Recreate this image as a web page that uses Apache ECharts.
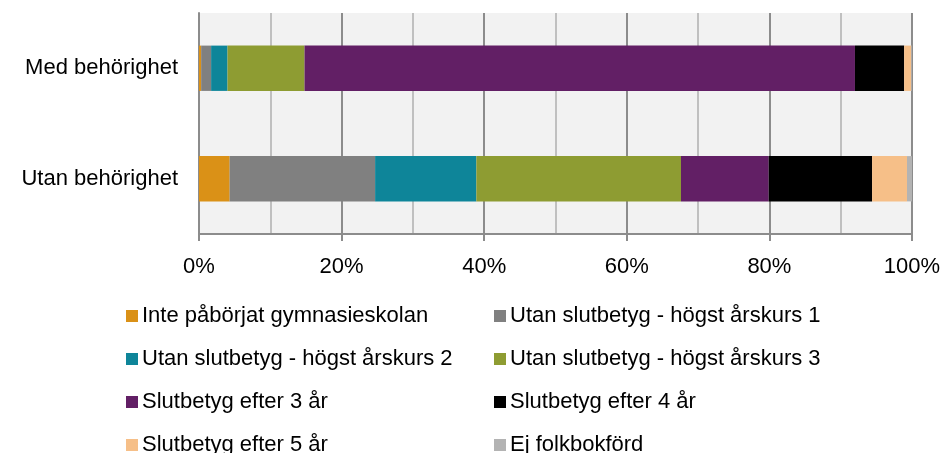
<!DOCTYPE html>
<html>
<head>
<meta charset="utf-8">
<script src="https://cdn.jsdelivr.net/npm/echarts@6/dist/echarts.min.js"></script>
<style>
  html, body { margin: 0; padding: 0; background: #fff; }
  #chart { width: 946px; height: 453px; }
</style>
</head>
<body>
<div id="chart"></div>
<script>
// kategorier (uppifrån och ned)
var categories = ['Med behörighet', 'Utan behörighet']
var seriesNames = [
  'Inte påbörjat gymnasieskolan',
  'Utan slutbetyg - högst årskurs 1',
  'Utan slutbetyg - högst årskurs 2',
  'Utan slutbetyg - högst årskurs 3',
  'Slutbetyg efter 3 år',
  'Slutbetyg efter 4 år',
  'Slutbetyg efter 5 år',
  'Ej folkbokförd'
]
// andelar i procent, [Med, Utan]
var inteStartat = [0.3, 4.3]
var hogstAk1 = [1.4, 20.4]
var hogstAk2 = [2.3, 14.2]
var hogstAk3 = [10.8, 28.7]
var efter3 = [77.2, 12.3]
var efter4 = [6.9, 14.5]
var efter5 = [1.0, 4.9]
var ejFolkbokford = [0.1, 0.7]
var tickLabels = ['0%', '20%', '40%', '60%', '80%', '100%']

var values = [inteStartat, hogstAk1, hogstAk2, hogstAk3, efter3, efter4, efter5, ejFolkbokford]
var colors = ['#DA9117', '#808080', '#0E8599', '#8E9C32', '#621F65', '#000000', '#F6BF88', '#B3B3B3']

var font = 'Arial, "Liberation Sans", sans-serif'
var chart = echarts.init(document.getElementById('chart'))

var series = seriesNames.map(function(name, i) {
  return {
    name: name,
    type: 'bar',
    stack: 'total',
    barWidth: '41%',
    itemStyle: { color: colors[i] },
    data: values[i]
  }
})

function legendFor(start, left) {
  var data = []
  for (var i = start; i < seriesNames.length; i += 2) data.push(seriesNames[i])
  return {
    orient: 'vertical',
    left: left,
    top: 305,
    height: 200,
    padding: 0,
    itemWidth: 12,
    itemHeight: 12,
    itemGap: 21,
    icon: 'rect',
    selectedMode: false,
    textStyle: { fontFamily: font, fontSize: 22, color: '#000', padding: [0, 0, 0, -1] },
    data: data
  }
}

chart.setOption({
  animation: false,
  color: colors,
  grid: { left: 199, right: 34, top: 13, bottom: 219, show: true, backgroundColor: '#F2F2F2', borderWidth: 0 },
  legend: [legendFor(0, 126), legendFor(1, 494)],
  xAxis: {
    type: 'value',
    min: 0,
    max: 100,
    interval: 20,
    minorTick: { show: false, splitNumber: 2 },
    minorSplitLine: { show: true, lineStyle: { color: '#C0C0C0', width: 2 } },
    splitLine: { show: true, lineStyle: { color: '#8C8C8C', width: 2 } },
    axisLine: { show: true, lineStyle: { color: '#8C8C8C', width: 2 } },
    axisTick: { show: true, length: 7, lineStyle: { color: '#8C8C8C', width: 2 } },
    axisLabel: {
      margin: 22,
      fontFamily: font,
      fontSize: 22,
      color: '#000',
      formatter: function(v) { return tickLabels[Math.round(v / 20)] }
    }
  },
  yAxis: {
    type: 'category',
    inverse: true,
    data: categories,
    axisLine: { show: true, lineStyle: { color: '#8C8C8C', width: 2 } },
    axisTick: { show: false },
    axisLabel: { margin: 21, fontFamily: font, fontSize: 22, color: '#000', padding: [12, 0, 0, 0] }
  },
  series: series
})
</script>
</body>
</html>
